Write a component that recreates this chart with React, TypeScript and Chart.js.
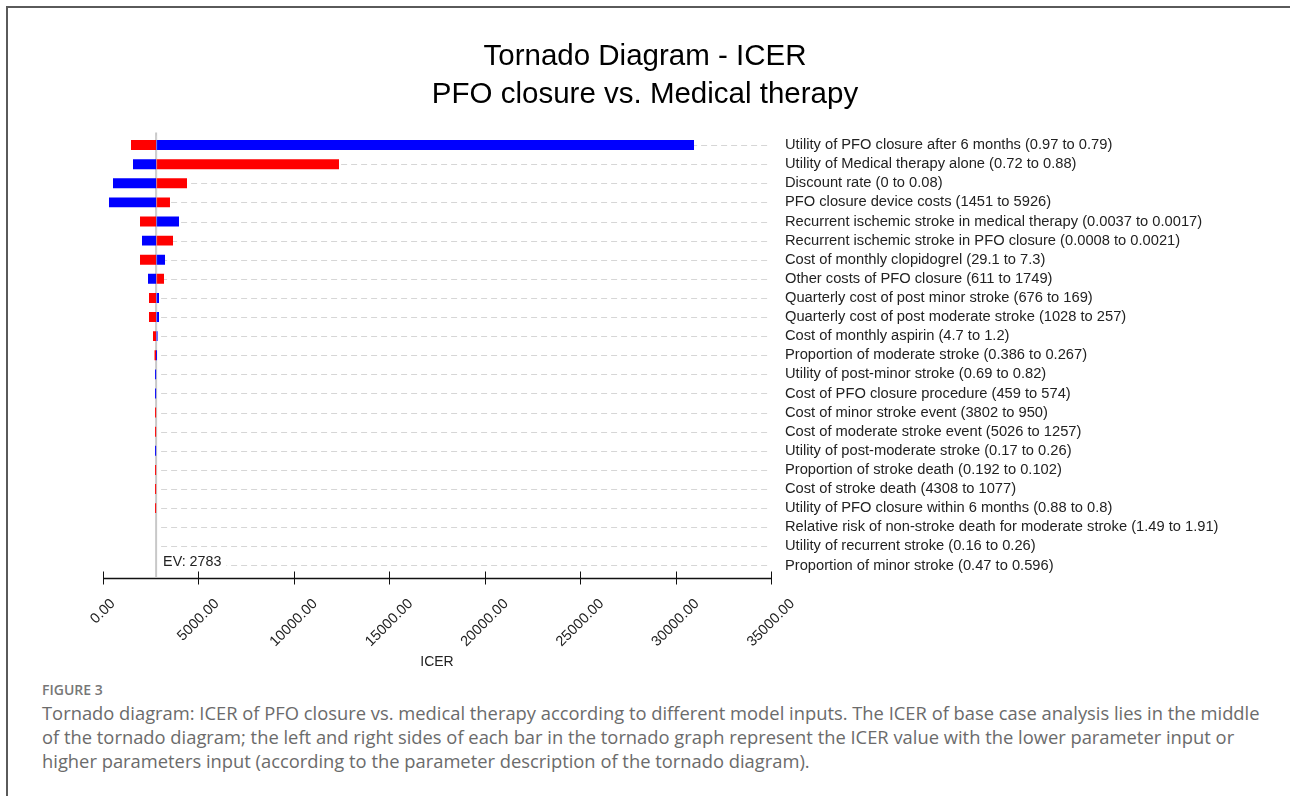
import React, { useEffect, useRef } from 'react';
import { Chart, registerables } from 'chart.js';

Chart.register(...registerables);

const chartTitle = ['Tornado Diagram - ICER', 'PFO closure vs. Medical therapy'];
const axisTitle = 'ICER';
const baseIcer = 2783;
const evLabel = 'EV: 2783';

const parameterLabels = [
  'Utility of PFO closure after 6 months (0.97 to 0.79)',
  'Utility of Medical therapy alone (0.72 to 0.88)',
  'Discount rate (0 to 0.08)',
  'PFO closure device costs (1451 to 5926)',
  'Recurrent ischemic stroke in medical therapy (0.0037 to 0.0017)',
  'Recurrent ischemic stroke in PFO closure (0.0008 to 0.0021)',
  'Cost of monthly clopidogrel (29.1 to 7.3)',
  'Other costs of PFO closure (611 to 1749)',
  'Quarterly cost of post minor stroke (676 to 169)',
  'Quarterly cost of post moderate stroke (1028 to 257)',
  'Cost of monthly aspirin (4.7 to 1.2)',
  'Proportion of moderate stroke (0.386 to 0.267)',
  'Utility of post-minor stroke (0.69 to 0.82)',
  'Cost of PFO closure procedure (459 to 574)',
  'Cost of minor stroke event (3802 to 950)',
  'Cost of moderate stroke event (5026 to 1257)',
  'Utility of post-moderate stroke (0.17 to 0.26)',
  'Proportion of stroke death (0.192 to 0.102)',
  'Cost of stroke death (4308 to 1077)',
  'Utility of PFO closure within 6 months (0.88 to 0.8)',
  'Relative risk of non-stroke death for moderate stroke (1.49 to 1.91)',
  'Utility of recurrent stroke (0.16 to 0.26)',
  'Proportion of minor stroke (0.47 to 0.596)',
];

// ICER when the parameter takes its lower input value (blue bars)
const lowInputIcer = [
  30966, 1572, 524, 314, 3982, 2043, 3249, 2358, 2934, 2934, 2860,
  2830, 2730, 2730, 2783, 2783, 2730, 2783, 2783, 2783, 2783, 2783, 2783,
];

// ICER when the parameter takes its higher input value (red bars)
const highInputIcer = [
  1467, 12365, 4401, 3510, 1939, 3668, 1939, 3196, 2410, 2410, 2620,
  2700, 2783, 2783, 2730, 2730, 2783, 2730, 2730, 2730, 2783, 2783, 2783,
];

const xTickValues = [0, 5000, 10000, 15000, 20000, 25000, 30000, 35000];

const captionHead = 'FIGURE 3';
const captionLines = [
  'Tornado diagram: ICER of PFO closure vs. medical therapy according to different model inputs. The ICER of base case analysis lies in the middle',
  'of the tornado diagram; the left and right sides of each bar in the tornado graph represent the ICER value with the lower parameter input or',
  'higher parameters input (according to the parameter description of the tornado diagram).',
];

const FONT = "'Liberation Sans', Arial, Helvetica, sans-serif";

const decorPlugin = {
  id: 'tornadoDecor',
  beforeDatasetsDraw(chart: any) {
    const { ctx, chartArea, scales } = chart;
    const xs = scales.x;
    const ys = scales.y;
    const ev = xs.getPixelForValue(baseIcer);
    ctx.save();
    ctx.strokeStyle = '#d6d6d6';
    ctx.lineWidth = 1;
    ctx.setLineDash([6, 4]);
    parameterLabels.forEach((_, i) => {
      const py = Math.round(ys.getPixelForValue(i)) + 0.5;
      ctx.beginPath();
      ctx.moveTo(ev + 5, py);
      ctx.lineTo(chartArea.right, py);
      ctx.stroke();
    });
    ctx.setLineDash([]);
    // EV line
    ctx.strokeStyle = '#c8c8c8';
    ctx.lineWidth = 2;
    ctx.beginPath();
    ctx.moveTo(ev, chartArea.top - 3);
    ctx.lineTo(ev, chartArea.bottom + 2);
    ctx.stroke();
    ctx.restore();
  },
  afterDatasetsDraw(chart: any) {
    const { ctx, chartArea, scales } = chart;
    const xs = scales.x;
    const ys = scales.y;
    const ev = xs.getPixelForValue(baseIcer);
    ctx.save();
    // thin light seam at the EV position over the bars
    ctx.strokeStyle = 'rgba(215,215,215,0.55)';
    ctx.lineWidth = 1;
    ctx.beginPath();
    ctx.moveTo(ev + 0.5, chartArea.top);
    ctx.lineTo(ev + 0.5, ys.getPixelForValue(10) + 6);
    ctx.stroke();
    // EV label
    const lastY = ys.getPixelForValue(parameterLabels.length - 1);
    ctx.font = `14.3px ${FONT}`;
    const w = ctx.measureText(evLabel).width;
    ctx.fillStyle = '#ffffff';
    ctx.fillRect(ev + 2, lastY - 10, w + 10, 16);
    ctx.fillStyle = '#222222';
    ctx.textBaseline = 'middle';
    ctx.textAlign = 'left';
    ctx.fillText(evLabel, ev + 7, lastY - 3);
    // x axis line and ticks
    const ay = Math.round(chartArea.bottom) + 3.5;
    ctx.strokeStyle = '#111111';
    ctx.lineWidth = 1.5;
    ctx.beginPath();
    ctx.moveTo(xs.getPixelForValue(xTickValues[0]), ay);
    ctx.lineTo(xs.getPixelForValue(xTickValues[xTickValues.length - 1]), ay);
    ctx.stroke();
    ctx.lineWidth = 1;
    xs.ticks.forEach((t: any) => {
      const px = Math.round(xs.getPixelForValue(t.value)) + 0.5;
      ctx.beginPath();
      ctx.moveTo(px, ay - 7);
      ctx.lineTo(px, ay + 6);
      ctx.stroke();
    });
    // rotated tick labels, centred under each tick
    ctx.font = `14.5px ${FONT}`;
    ctx.fillStyle = '#222222';
    ctx.textAlign = 'right';
    ctx.textBaseline = 'middle';
    const c = Math.SQRT1_2;
    xs.ticks.forEach((t: any) => {
      const px = xs.getPixelForValue(t.value);
      const label = String(t.label);
      const tw = ctx.measureText(label).width;
      ctx.save();
      ctx.translate(px + (tw * c) / 2, ay + 23);
      ctx.rotate(-Math.PI / 4);
      ctx.fillText(label, 0, 0);
      ctx.restore();
    });
    ctx.restore();
  },
};

export default function App() {
  const canvasRef = useRef<HTMLCanvasElement | null>(null);

  useEffect(() => {
    if (!canvasRef.current) return;
    const chart = new Chart(canvasRef.current, {
      type: 'bar',
      data: {
        labels: parameterLabels,
        datasets: [
          {
            label: 'Lower input',
            data: lowInputIcer.map((v) => [baseIcer, v]),
            backgroundColor: '#0000ff',
            borderWidth: 0,
            grouped: false,
            barPercentage: 0.52,
            categoryPercentage: 1,
          } as any,
          {
            label: 'Higher input',
            data: highInputIcer.map((v) => [baseIcer, v]),
            backgroundColor: '#ff0000',
            borderWidth: 0,
            grouped: false,
            barPercentage: 0.52,
            categoryPercentage: 1,
          } as any,
        ],
      },
      options: {
        indexAxis: 'y',
        responsive: true,
        maintainAspectRatio: false,
        animation: false,
        layout: { padding: { left: 0, right: 0, top: 0, bottom: 0 } },
        plugins: {
          legend: { display: false },
          tooltip: { enabled: false },
          title: {
            display: true,
            text: chartTitle,
            color: '#000000',
            font: { family: FONT, size: 29.5, weight: 'normal', lineHeight: 1.28 },
            padding: { top: 38, bottom: 22 },
          },
        },
        scales: {
          x: {
            type: 'linear',
            position: 'bottom',
            min: 0,
            max: 35000,
            grid: { display: false },
            border: { display: false },
            afterBuildTicks: (s: any) => {
              s.ticks = xTickValues.map((v) => ({ value: v }));
            },
            afterFit: (s: any) => {
              s.height = 105;
              s.paddingLeft = 103;
              s.paddingRight = 0;
            },
            ticks: {
              display: false,
              callback: (v: any) => Number(v).toFixed(2),
            },
            title: {
              display: true,
              text: axisTitle,
              color: '#222222',
              font: { family: FONT, size: 14 },
              padding: { top: 0, bottom: 9 },
            },
          },
          y: {
            type: 'category',
            position: 'right',
            grid: { display: false },
            border: { display: false },
            afterFit: (s: any) => {
              s.width = 519;
            },
            ticks: {
              autoSkip: false,
              padding: 6,
              color: '#222222',
              font: { family: FONT, size: 14.7 },
            },
          },
        },
      } as any,
      plugins: [decorPlugin],
    });
    return () => chart.destroy();
  }, []);

  return (
    <div
      style={{
        position: 'fixed',
        left: 0,
        top: 0,
        width: 1290,
        height: 796,
        background: '#ffffff',
        overflow: 'hidden',
      }}
    >
      <div
        style={{
          position: 'absolute',
          left: 6,
          top: 6,
          right: -10,
          bottom: -10,
          borderTop: '2px solid #5a5a5a',
          borderLeft: '2px solid #5a5a5a',
        }}
      />
      <div style={{ position: 'absolute', left: 0, top: 0, width: 1290, height: 680 }}>
        <canvas ref={canvasRef} />
      </div>
      <div
        style={{
          position: 'absolute',
          left: 42,
          top: 680,
          fontFamily: "'Open Sans', sans-serif",
          fontSize: 14,
          lineHeight: '20px',
          fontWeight: 600,
          color: '#777777',
        }}
      >
        {captionHead}
      </div>
      <div
        style={{
          position: 'absolute',
          left: 42,
          top: 701,
          fontFamily: "'Open Sans', sans-serif",
          fontSize: 18.35,
          lineHeight: '24px',
          color: '#6b6b6b',
          whiteSpace: 'nowrap',
        }}
      >
        {captionLines.map((l, i) => (
          <div key={i}>{l}</div>
        ))}
      </div>
    </div>
  );
}
